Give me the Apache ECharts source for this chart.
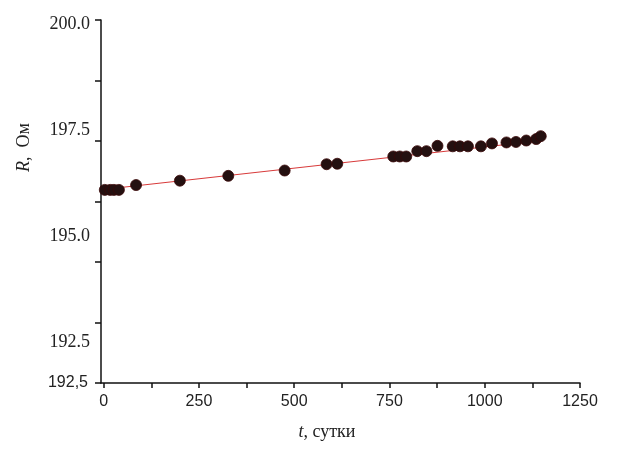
<!DOCTYPE html>
<html>
<head>
<meta charset="utf-8">
<script src="https://cdn.jsdelivr.net/npm/echarts@6/dist/echarts.min.js"></script>
<style>
html,body{margin:0;padding:0;background:#fff;}
#chart{width:617px;height:451px;}
</style>
</head>
<body>
<div id="chart"></div>
<script>
// Data
const tDays = [3, 17, 27, 40, 85, 200, 327, 475, 585, 613, 760, 777, 794, 823, 847, 876, 916, 935, 956, 990, 1019, 1057, 1082, 1109, 1135, 1147];
const rOhm  = [196.49, 196.49, 196.49, 196.49, 196.59, 196.68, 196.78, 196.89, 197.02, 197.03, 197.18, 197.18, 197.18, 197.29, 197.29, 197.40, 197.39, 197.39, 197.39, 197.39, 197.45, 197.47, 197.48, 197.51, 197.54, 197.60];
// linear fit line (end points)
const fitT = [0, 1150];
const fitR = [196.50, 197.51];
// tick / label values
const xTicks = [0, 125, 250, 375, 500, 625, 750, 875, 1000, 1125, 1250];
const xLabels = [0, 250, 500, 750, 1000, 1250];
const yTicks = [192.5, 193.75, 195, 196.25, 197.5, 198.75, 200];
const yLabelsSerif = [200, 197.5, 195, 192.5];
const yLabelBottom = [192.5];

const chart = echarts.init(document.getElementById('chart'), null, {renderer: 'canvas'});
const axisColor = '#111';
const option = {
  animation: false,
  backgroundColor: '#fff',
  grid: {left: 101, right: 37, top: 20, bottom: 68, containLabel: false},
  xAxis: {
    type: 'value',
    min: -7, max: 1250,
    axisLine: {show: true, onZero: false, lineStyle: {color: axisColor, width: 1.5}},
    axisTick: {show: true, length: 5, customValues: xTicks, lineStyle: {color: axisColor, width: 1.5}},
    axisLabel: {customValues: xLabels, formatter: v => String(v), fontFamily: 'Liberation Sans', fontSize: 16, color: '#222', margin: 11},
    splitLine: {show: false},
    name: '{i|t}, сутки',
    nameLocation: 'middle',
    nameGap: 40,
    nameTextStyle: {
      fontFamily: 'Liberation Serif', fontSize: 18, color: '#222',
      padding: [0, 27, 0, 0],
      rich: {i: {fontFamily: 'Liberation Serif', fontStyle: 'italic', fontSize: 18, color: '#222'}}
    }
  },
  yAxis: [{
    type: 'value',
    min: 192.5, max: 200,
    position: 'left',
    axisLine: {show: true, onZero: false, lineStyle: {color: axisColor, width: 1.5}},
    axisTick: {show: true, length: 6, customValues: yTicks, lineStyle: {color: axisColor, width: 1.5}},
    axisLabel: {customValues: yLabelBottom, formatter: v => String(v).replace('.', ','), fontFamily: 'Liberation Sans', fontSize: 16, color: '#222', margin: 13},
    splitLine: {show: false},
    name: '{i|R},  Ом',
    nameLocation: 'middle',
    nameGap: 68,
    nameTextStyle: {
      fontFamily: 'Liberation Serif', fontSize: 18, color: '#222',
      padding: [0, 0, 0, 108],
      rich: {i: {fontFamily: 'Liberation Serif', fontStyle: 'italic', fontSize: 18, color: '#222'}}
    }
  }, {
    type: 'value',
    min: 191.533, max: 200.094,
    position: 'left',
    axisLine: {show: false},
    axisTick: {show: false},
    axisLabel: {customValues: yLabelsSerif, formatter: v => v.toFixed(1), fontFamily: 'Liberation Serif', fontSize: 18, color: '#222', margin: 11},
    splitLine: {show: false}
  }],
  series: [{
    type: 'line',
    data: fitT.map((t, i) => [t, fitR[i]]),
    showSymbol: false,
    lineStyle: {color: '#d83a3a', width: 1},
    z: 2
  }, {
    type: 'scatter',
    data: tDays.map((t, i) => [t, rOhm[i]]),
    symbol: 'circle',
    symbolSize: 11,
    itemStyle: {color: '#241010', borderColor: '#3a0808', borderWidth: 0.8, opacity: 1},
    z: 3
  }]
};
chart.setOption(option);
</script>
</body>
</html>
